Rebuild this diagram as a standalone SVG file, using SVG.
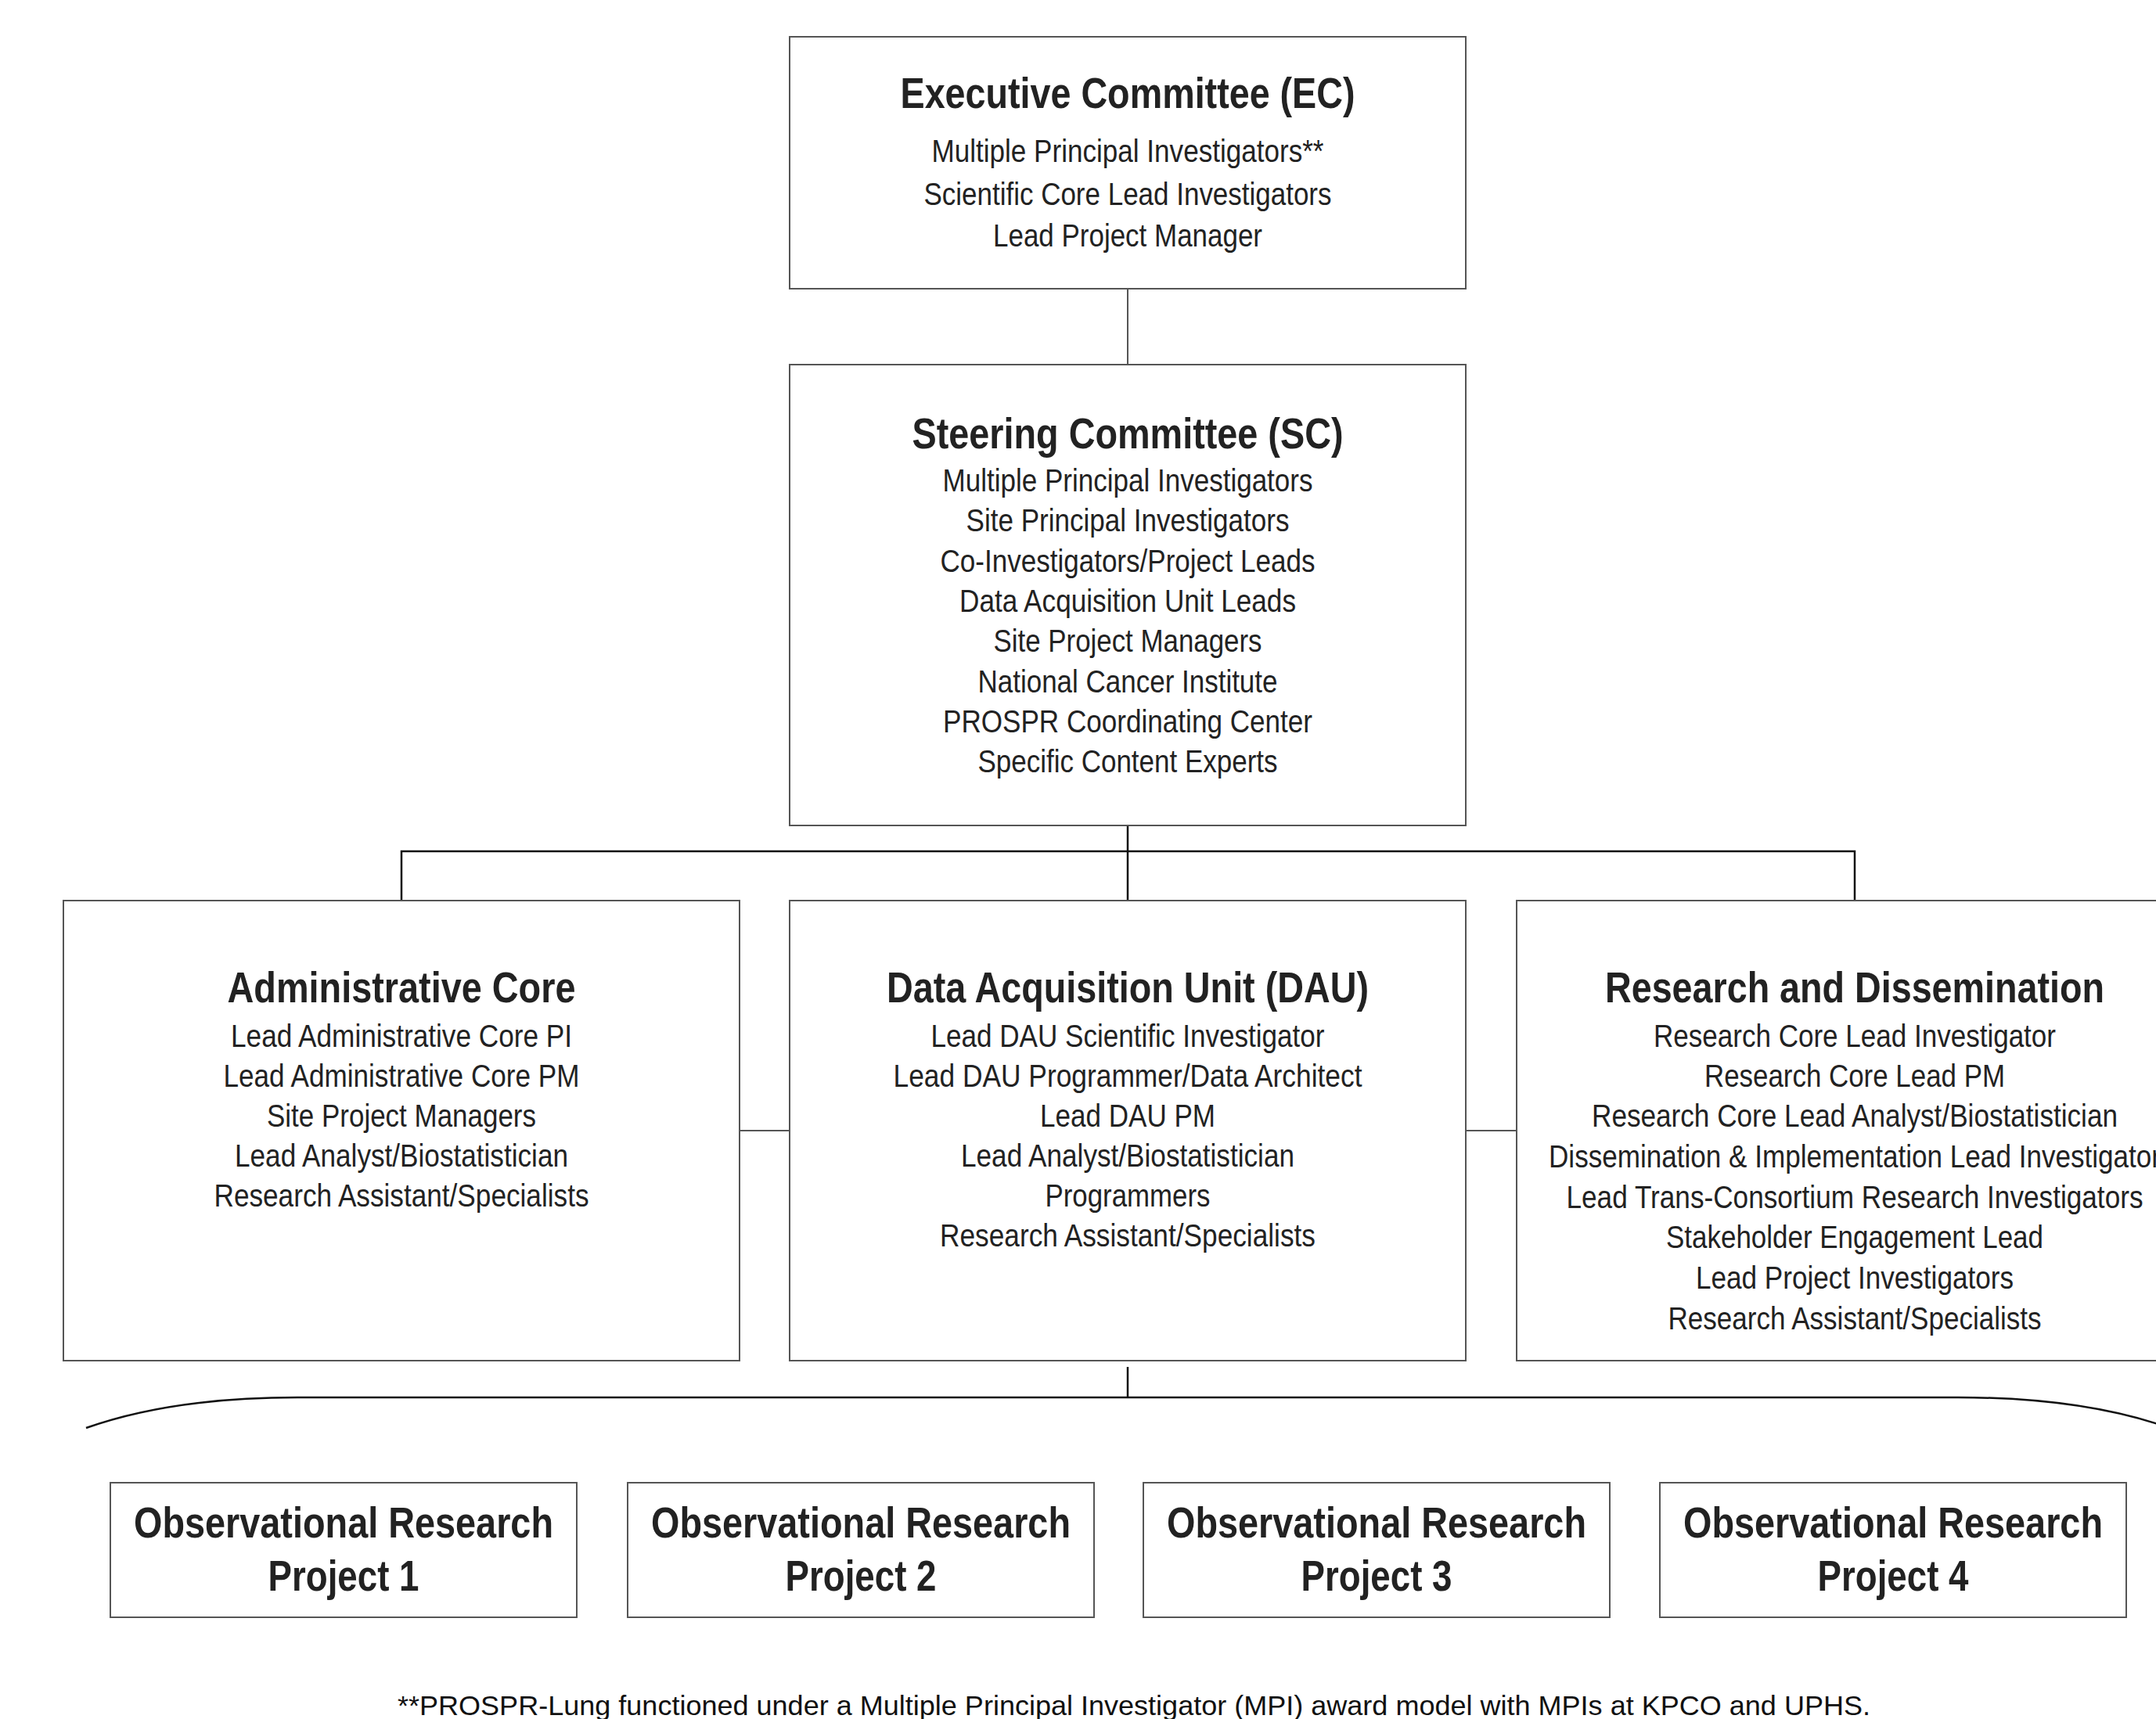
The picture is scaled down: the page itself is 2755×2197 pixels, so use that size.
<svg xmlns="http://www.w3.org/2000/svg" width="2755" height="2197" viewBox="0 0 2755 2197">
<style>
.box{fill:#fff;stroke:#555;stroke-width:2}
.t{font-family:"Liberation Sans",Arial,sans-serif;fill:#222;text-anchor:middle}
.h{font-size:55px;font-weight:bold}
.b{font-size:41px}
.o{font-size:56px;font-weight:bold}
.f{font-size:35px;fill:#111}
.g{stroke:#555;stroke-width:2;fill:none}
.k{stroke:#111;stroke-width:2.5;fill:none}
</style>
<rect width="2755" height="2197" fill="#fff"/>
<g id="connectors">
<line class="g" x1="1441" y1="369" x2="1441" y2="466"/>
<line class="k" x1="1441" y1="1055" x2="1441" y2="1151"/>
<polyline class="k" points="513,1151 513,1088 2370,1088 2370,1151"/>
<line class="g" x1="945" y1="1445" x2="1009" y2="1445"/>
<line class="g" x1="1873" y1="1445" x2="1938" y2="1445"/>
<line class="k" x1="1441" y1="1747" x2="1441" y2="1786"/>
<path class="k" d="M110,1825 Q220,1786 380,1786 L2502,1786 Q2662,1786 2772,1825"/>
</g>
<g id="ec">
<rect class="box" x="1009" y="47" width="864" height="322"/>
<text class="t h" x="1441" y="138" textLength="581" lengthAdjust="spacingAndGlyphs">Executive Committee (EC)</text>
<text class="t b" x="1441" y="207" textLength="501" lengthAdjust="spacingAndGlyphs">Multiple Principal Investigators**</text>
<text class="t b" x="1441" y="262" textLength="521" lengthAdjust="spacingAndGlyphs">Scientific Core Lead Investigators</text>
<text class="t b" x="1441" y="315" textLength="344" lengthAdjust="spacingAndGlyphs">Lead Project Manager</text>
</g>
<g id="sc">
<rect class="box" x="1009" y="466" width="864" height="589"/>
<text class="t h" x="1441" y="573" textLength="551" lengthAdjust="spacingAndGlyphs">Steering Committee (SC)</text>
<text class="t b" x="1441" y="628" textLength="473" lengthAdjust="spacingAndGlyphs">Multiple Principal Investigators</text>
<text class="t b" x="1441" y="679" textLength="413" lengthAdjust="spacingAndGlyphs">Site Principal Investigators</text>
<text class="t b" x="1441" y="731" textLength="479" lengthAdjust="spacingAndGlyphs">Co-Investigators/Project Leads</text>
<text class="t b" x="1441" y="782" textLength="430" lengthAdjust="spacingAndGlyphs">Data Acquisition Unit Leads</text>
<text class="t b" x="1441" y="833" textLength="343" lengthAdjust="spacingAndGlyphs">Site Project Managers</text>
<text class="t b" x="1441" y="885" textLength="383" lengthAdjust="spacingAndGlyphs">National Cancer Institute</text>
<text class="t b" x="1441" y="936" textLength="472" lengthAdjust="spacingAndGlyphs">PROSPR Coordinating Center</text>
<text class="t b" x="1441" y="987" textLength="383" lengthAdjust="spacingAndGlyphs">Specific Content Experts</text>
</g>
<g id="admin">
<rect class="box" x="81" y="1151" width="864" height="588"/>
<text class="t h" x="513" y="1281" textLength="445" lengthAdjust="spacingAndGlyphs">Administrative Core</text>
<text class="t b" x="513" y="1338" textLength="436" lengthAdjust="spacingAndGlyphs">Lead Administrative Core PI</text>
<text class="t b" x="513" y="1389" textLength="455" lengthAdjust="spacingAndGlyphs">Lead Administrative Core PM</text>
<text class="t b" x="513" y="1440" textLength="344" lengthAdjust="spacingAndGlyphs">Site Project Managers</text>
<text class="t b" x="513" y="1491" textLength="426" lengthAdjust="spacingAndGlyphs">Lead Analyst/Biostatistician</text>
<text class="t b" x="513" y="1542" textLength="479" lengthAdjust="spacingAndGlyphs">Research Assistant/Specialists</text>
</g>
<g id="dau">
<rect class="box" x="1009" y="1151" width="864" height="588"/>
<text class="t h" x="1441" y="1281" textLength="616" lengthAdjust="spacingAndGlyphs">Data Acquisition Unit (DAU)</text>
<text class="t b" x="1441" y="1338" textLength="503" lengthAdjust="spacingAndGlyphs">Lead DAU Scientific Investigator</text>
<text class="t b" x="1441" y="1389" textLength="599" lengthAdjust="spacingAndGlyphs">Lead DAU Programmer/Data Architect</text>
<text class="t b" x="1441" y="1440" textLength="224" lengthAdjust="spacingAndGlyphs">Lead DAU PM</text>
<text class="t b" x="1441" y="1491" textLength="426" lengthAdjust="spacingAndGlyphs">Lead Analyst/Biostatistician</text>
<text class="t b" x="1441" y="1542" textLength="211" lengthAdjust="spacingAndGlyphs">Programmers</text>
<text class="t b" x="1441" y="1593" textLength="480" lengthAdjust="spacingAndGlyphs">Research Assistant/Specialists</text>
</g>
<g id="rd">
<rect class="box" x="1938" y="1151" width="864" height="588"/>
<text class="t h" x="2370" y="1281" textLength="638" lengthAdjust="spacingAndGlyphs">Research and Dissemination</text>
<text class="t b" x="2370" y="1338" textLength="514" lengthAdjust="spacingAndGlyphs">Research Core Lead Investigator</text>
<text class="t b" x="2370" y="1389" textLength="384" lengthAdjust="spacingAndGlyphs">Research Core Lead PM</text>
<text class="t b" x="2370" y="1440" textLength="672" lengthAdjust="spacingAndGlyphs">Research Core Lead Analyst/Biostatistician</text>
<text class="t b" x="2370" y="1492" textLength="782" lengthAdjust="spacingAndGlyphs">Dissemination &amp; Implementation Lead Investigator</text>
<text class="t b" x="2370" y="1544" textLength="737" lengthAdjust="spacingAndGlyphs">Lead Trans-Consortium Research Investigators</text>
<text class="t b" x="2370" y="1595" textLength="482" lengthAdjust="spacingAndGlyphs">Stakeholder Engagement Lead</text>
<text class="t b" x="2370" y="1647" textLength="406" lengthAdjust="spacingAndGlyphs">Lead Project Investigators</text>
<text class="t b" x="2370" y="1699" textLength="477" lengthAdjust="spacingAndGlyphs">Research Assistant/Specialists</text>
</g>
<g id="orp1">
<rect class="box" x="141" y="1895" width="596" height="172"/>
<text class="t o" x="439" y="1965" textLength="536" lengthAdjust="spacingAndGlyphs">Observational Research</text>
<text class="t o" x="439" y="2033" textLength="193" lengthAdjust="spacingAndGlyphs">Project 1</text>
</g>
<g id="orp2">
<rect class="box" x="802" y="1895" width="596" height="172"/>
<text class="t o" x="1100" y="1965" textLength="536" lengthAdjust="spacingAndGlyphs">Observational Research</text>
<text class="t o" x="1100" y="2033" textLength="193" lengthAdjust="spacingAndGlyphs">Project 2</text>
</g>
<g id="orp3">
<rect class="box" x="1461" y="1895" width="596" height="172"/>
<text class="t o" x="1759" y="1965" textLength="536" lengthAdjust="spacingAndGlyphs">Observational Research</text>
<text class="t o" x="1759" y="2033" textLength="193" lengthAdjust="spacingAndGlyphs">Project 3</text>
</g>
<g id="orp4">
<rect class="box" x="2121" y="1895" width="596" height="172"/>
<text class="t o" x="2419" y="1965" textLength="536" lengthAdjust="spacingAndGlyphs">Observational Research</text>
<text class="t o" x="2419" y="2033" textLength="193" lengthAdjust="spacingAndGlyphs">Project 4</text>
</g>
<g id="footnote">
<text class="t f" x="1449" y="2192" textLength="1882" lengthAdjust="spacingAndGlyphs">**PROSPR-Lung functioned under a Multiple Principal Investigator (MPI) award model with MPIs at KPCO and UPHS.</text>
</g>
</svg>
